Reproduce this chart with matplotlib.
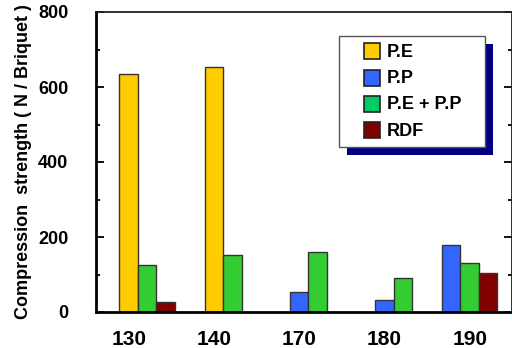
import numpy as np
import matplotlib.pyplot as plt
from matplotlib.patches import Patch, Rectangle
from matplotlib.legend_handler import HandlerPatch

plt.rcParams['font.family'] = ['Liberation Sans', 'DejaVu Sans']
plt.rcParams['font.weight'] = 'bold'

# compression strength per temperature (N/Briquet), nan = not tested
temps = ['130', '140', '170', '180', '190']
pe = [636, 653, np.nan, np.nan, np.nan]
pp = [np.nan, np.nan, 53, 32, 179]
pe_pp = [125, 151, 159, 90, 131]
rdf = [27, np.nan, np.nan, np.nan, 105]

series = [pe, pp, pe_pp, rdf]
names = ['P.E', 'P.P', 'P.E + P.P', 'RDF']
bar_colors = ['#FFCC00', '#3366FF', '#33CC33', '#800000']
key_colors = ['#FFCC00', '#3366FF', '#00CC66', '#800000']

W, H = 512, 348
fig = plt.figure(figsize=(W / 100, H / 100), dpi=100)
ax = fig.add_axes([96 / W, 36 / H, 415.5 / W, 300 / H])

w = 0.217
# where the first bar of each group sits, in bar widths from the tick
first_shift = [0, 0, 0, 0, -1]
for i in range(len(temps)):
    k = 0
    for s, vals in enumerate(series):
        v = vals[i]
        if np.isnan(v):
            continue
        ax.bar(i + (first_shift[i] + k) * w, v, width=w, color=bar_colors[s],
               edgecolor='#333333', linewidth=1.0, zorder=2)
        k += 1

ax.set_xlim(-0.383, 4.49)
ax.set_ylim(0, 800)
ax.set_xticks(range(len(temps)))
ax.set_xticklabels(temps, fontsize=15, fontweight='bold')
ax.set_yticks(range(0, 801, 200))
ax.set_yticks(range(100, 800, 200), minor=True)
ax.tick_params(axis='y', which='major', direction='in', length=6, width=1.3,
               right=True, labelsize=13, pad=20)
ax.tick_params(axis='y', which='minor', direction='in', length=3, width=1.3,
               right=True)
ax.tick_params(axis='x', length=0, pad=13)

for side in ['left', 'bottom']:
    ax.spines[side].set_linewidth(2)
for side in ['top', 'right']:
    ax.spines[side].set_linewidth(1.3)
    ax.spines[side].set_color('#222222')

ax.set_ylabel('Compression  strength ( N / Briquet )', fontsize=13,
              fontweight='bold')
ax.yaxis.set_label_coords(-0.154, 0.5)

# legend box with a solid navy drop shadow, in axes fractions
box_x, box_y = (339 - 96) / 415.5, (312 - 147) / 300
box_w, box_h = 146 / 415.5, 111 / 300
ax.add_patch(Rectangle((box_x + 8 / 415.5, box_y - 8 / 300), box_w, box_h,
                       transform=ax.transAxes, facecolor='#000080',
                       edgecolor='none', zorder=4, clip_on=False))
ax.add_patch(Rectangle((box_x, box_y), box_w, box_h, transform=ax.transAxes,
                       facecolor='white', edgecolor='#555555', linewidth=1.0,
                       zorder=4.5, clip_on=False))


def square_key(legend, orig_handle, xdescent, ydescent, width, height, fontsize):
    side = height * 1.0
    return Rectangle((width - side - xdescent, -ydescent - 0.05 * height), side, side)


handles = [Patch(facecolor=c, edgecolor='#222222', linewidth=1.2) for c in key_colors]
leg = ax.legend(handles, names, loc='upper left',
                bbox_to_anchor=((352 - 96) / 415.5, 1 - 24 / 300),
                frameon=False, prop={'size': 13, 'weight': 'bold'},
                handlelength=1.2, handleheight=1.0, handletextpad=0.4,
                labelspacing=0.45, borderpad=0.35, borderaxespad=0,
                handler_map={Patch: HandlerPatch(patch_func=square_key)})
leg.set_zorder(5)

fig.savefig('out.png', dpi=100)
